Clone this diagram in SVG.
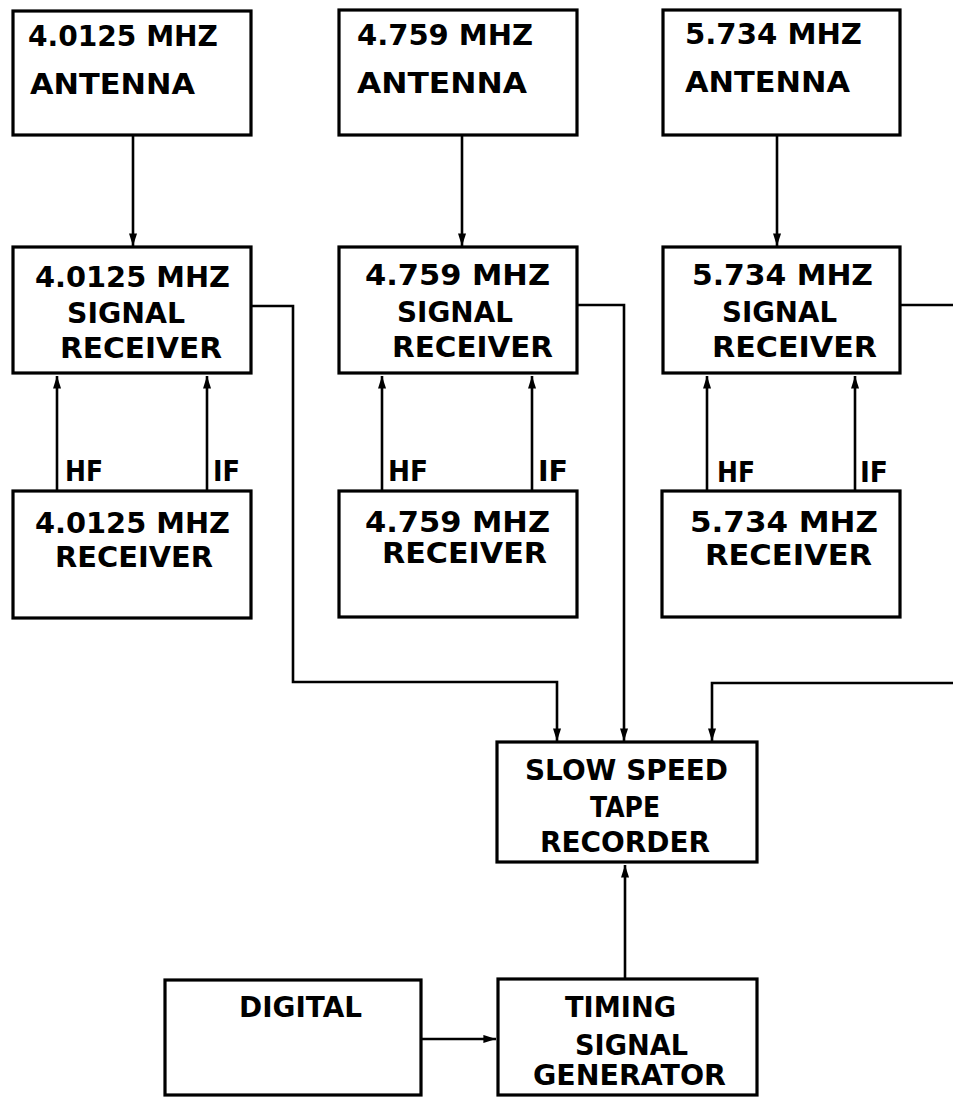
<svg xmlns="http://www.w3.org/2000/svg" width="953" height="1098" viewBox="0 0 953 1098">
<defs>
<marker id="arr" markerUnits="userSpaceOnUse" markerWidth="14" markerHeight="9" refX="14" refY="5" viewBox="0 0 14 10" orient="auto">
<path d="M0,0.5 L14,5 L0,9.5 Z" fill="#000"/>
</marker>
<style>
.box{fill:#fff;stroke:#000;stroke-width:3.2}
.t{font-family:"DejaVu Sans","Liberation Sans",sans-serif;font-weight:bold;font-size:28px;fill:#000}
.c{fill:none;stroke:#000;stroke-width:2.6;marker-end:url(#arr)}
</style>
</defs>
<rect width="953" height="1098" fill="#fff"/>

<g id="connectors">
<path class="c" d="M133 135 V246"/>
<path class="c" d="M462 135 V246"/>
<path class="c" d="M777 135 V246"/>
<path class="c" d="M57 490 V376"/>
<path class="c" d="M207 490 V376"/>
<path class="c" d="M382 490 V376"/>
<path class="c" d="M532 490 V376"/>
<path class="c" d="M707 490 V376"/>
<path class="c" d="M855 490 V376"/>
<path class="c" d="M251 306 H293 V682 H557 V741"/>
<path class="c" d="M577 305 H624 V741"/>
<path class="c" d="M900 305 H960 V683 H712 V741"/>
<path class="c" d="M625 979 V865"/>
<path class="c" d="M421 1039 H496"/>
</g>

<g id="ant1"><rect class="box" x="13" y="11" width="238" height="124"/>
<text class="t" x="28" y="46" textLength="190" lengthAdjust="spacingAndGlyphs">4.0125 MHZ</text>
<text class="t" x="30" y="94" textLength="165" lengthAdjust="spacingAndGlyphs">ANTENNA</text></g>
<g id="ant2"><rect class="box" x="339" y="10" width="238" height="125"/>
<text class="t" x="357" y="45" textLength="176" lengthAdjust="spacingAndGlyphs">4.759 MHZ</text>
<text class="t" x="357" y="93" textLength="170" lengthAdjust="spacingAndGlyphs">ANTENNA</text></g>
<g id="ant3"><rect class="box" x="663" y="10" width="237" height="125"/>
<text class="t" x="685" y="44" textLength="177" lengthAdjust="spacingAndGlyphs">5.734 MHZ</text>
<text class="t" x="685" y="92" textLength="165" lengthAdjust="spacingAndGlyphs">ANTENNA</text></g>

<g id="sig1"><rect class="box" x="13" y="247" width="238" height="126"/>
<text class="t" x="35" y="287" textLength="195" lengthAdjust="spacingAndGlyphs">4.0125 MHZ</text>
<text class="t" x="67" y="323" textLength="118" lengthAdjust="spacingAndGlyphs">SIGNAL</text>
<text class="t" x="60" y="358" textLength="162" lengthAdjust="spacingAndGlyphs">RECEIVER</text></g>
<g id="sig2"><rect class="box" x="339" y="247" width="238" height="126"/>
<text class="t" x="365" y="285" textLength="185" lengthAdjust="spacingAndGlyphs">4.759 MHZ</text>
<text class="t" x="397" y="322" textLength="116" lengthAdjust="spacingAndGlyphs">SIGNAL</text>
<text class="t" x="392" y="357" textLength="161" lengthAdjust="spacingAndGlyphs">RECEIVER</text></g>
<g id="sig3"><rect class="box" x="663" y="247" width="237" height="126"/>
<text class="t" x="692" y="285" textLength="181" lengthAdjust="spacingAndGlyphs">5.734 MHZ</text>
<text class="t" x="722" y="322" textLength="115" lengthAdjust="spacingAndGlyphs">SIGNAL</text>
<text class="t" x="712" y="357" textLength="165" lengthAdjust="spacingAndGlyphs">RECEIVER</text></g>

<g id="rx1"><rect class="box" x="13" y="491" width="238" height="127"/>
<text class="t" x="35" y="533" textLength="195" lengthAdjust="spacingAndGlyphs">4.0125 MHZ</text>
<text class="t" x="55" y="567" textLength="158" lengthAdjust="spacingAndGlyphs">RECEIVER</text></g>
<g id="rx2"><rect class="box" x="339" y="491" width="238" height="126"/>
<text class="t" x="365" y="532" textLength="185" lengthAdjust="spacingAndGlyphs">4.759 MHZ</text>
<text class="t" x="382" y="563" textLength="165" lengthAdjust="spacingAndGlyphs">RECEIVER</text></g>
<g id="rx3"><rect class="box" x="662" y="491" width="238" height="126"/>
<text class="t" x="690" y="532" textLength="188" lengthAdjust="spacingAndGlyphs">5.734 MHZ</text>
<text class="t" x="705" y="565" textLength="167" lengthAdjust="spacingAndGlyphs">RECEIVER</text></g>

<g id="labels">
<text class="t" x="65" y="481" textLength="38" lengthAdjust="spacingAndGlyphs">HF</text>
<text class="t" x="213" y="481" textLength="27" lengthAdjust="spacingAndGlyphs">IF</text>
<text class="t" x="388" y="481" textLength="40" lengthAdjust="spacingAndGlyphs">HF</text>
<text class="t" x="538" y="481" textLength="30" lengthAdjust="spacingAndGlyphs">IF</text>
<text class="t" x="717" y="482" textLength="38" lengthAdjust="spacingAndGlyphs">HF</text>
<text class="t" x="860" y="482" textLength="28" lengthAdjust="spacingAndGlyphs">IF</text>
</g>

<g id="tape"><rect class="box" x="497" y="742" width="260" height="120"/>
<text class="t" x="525" y="780" textLength="203" lengthAdjust="spacingAndGlyphs">SLOW SPEED</text>
<text class="t" x="590" y="817" textLength="70" lengthAdjust="spacingAndGlyphs">TAPE</text>
<text class="t" x="540" y="852" textLength="170" lengthAdjust="spacingAndGlyphs">RECORDER</text></g>

<g id="digital"><rect class="box" x="165" y="980" width="256" height="115"/>
<text class="t" x="239" y="1017" textLength="123" lengthAdjust="spacingAndGlyphs">DIGITAL</text></g>

<g id="timing"><rect class="box" x="498" y="979" width="259" height="116"/>
<text class="t" x="565" y="1017" textLength="111" lengthAdjust="spacingAndGlyphs">TIMING</text>
<text class="t" x="575" y="1055" textLength="113" lengthAdjust="spacingAndGlyphs">SIGNAL</text>
<text class="t" x="533" y="1085" textLength="193" lengthAdjust="spacingAndGlyphs">GENERATOR</text></g>
</svg>
